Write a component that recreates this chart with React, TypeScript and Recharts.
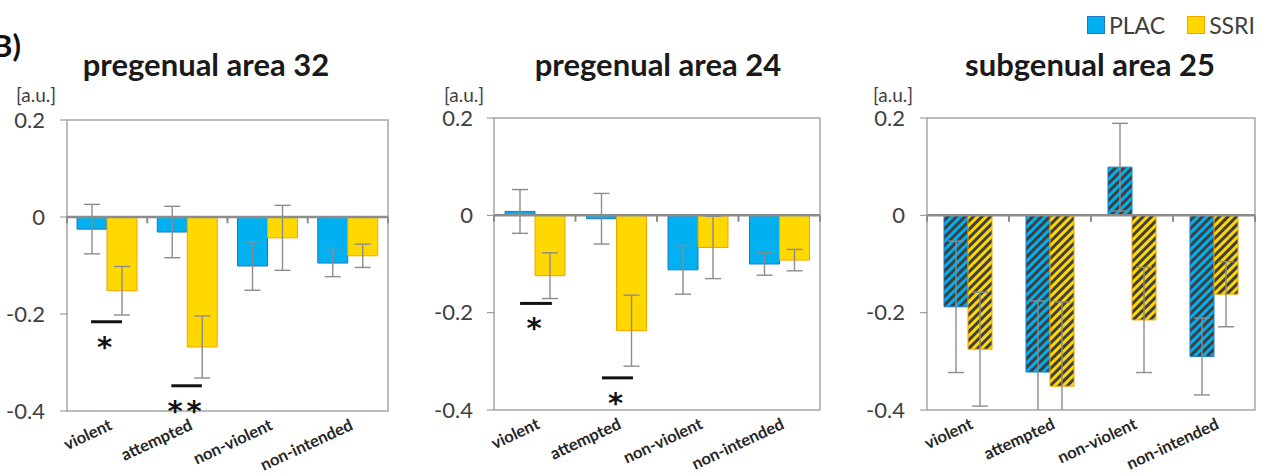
import React from 'react';
import {
  BarChart,
  Bar,
  XAxis,
  YAxis,
  ErrorBar,
  ReferenceLine,
  ReferenceArea,
} from 'recharts';

// ---- data ----
const CATEGORIES = ['violent', 'attempted', 'non-violent', 'non-intended'];
const SERIES = ['PLAC', 'SSRI'];

const PG32_PLAC = [-0.025, -0.031, -0.101, -0.095];
const PG32_PLAC_ERR = [0.051, 0.053, 0.05, 0.028];
const PG32_SSRI = [-0.152, -0.268, -0.043, -0.08];
const PG32_SSRI_ERR = [0.05, 0.064, 0.067, 0.024];

const PG24_PLAC = [0.008, -0.007, -0.112, -0.1];
const PG24_PLAC_ERR = [0.045, 0.052, 0.05, 0.023];
const PG24_SSRI = [-0.124, -0.237, -0.066, -0.092];
const PG24_SSRI_ERR = [0.047, 0.073, 0.064, 0.022];

const SG25_PLAC = [-0.188, -0.322, 0.099, -0.29];
const SG25_PLAC_ERR = [0.135, 0.146, 0.09, 0.079];
const SG25_SSRI = [-0.275, -0.351, -0.215, -0.162];
const SG25_SSRI_ERR = [0.117, 0.173, 0.108, 0.067];

const Y_TICKS = [0.2, 0, -0.2, -0.4];
const BOUNDARIES = [0, 1, 2, 3, 4];

// significance marks, in data units (category slot / value)
const PG32_SIG = [
  { from: 0.3, to: 0.685, at: -0.216, text: '*' },
  { from: 1.3, to: 1.68, at: -0.348, text: '**' },
];
const PG24_SIG = [
  { from: 0.32, to: 0.71, at: -0.181, text: '*' },
  { from: 1.325, to: 1.705, at: -0.334, text: '*' },
];

const BLUE = '#00b0f0';
const BLUE_EDGE = '#1f78c8';
const YELLOW = '#ffd800';
const YELLOW_EDGE = '#f5a300';
const GREY = '#8c8c8c';
const TEXT = '#404040';
const FONT = 'Lato, "Open Sans", sans-serif';
const H = 476;
const XAXIS_H = 60;

const buildRows = (plac: number[], placErr: number[], ssri: number[], ssriErr: number[]) =>
  CATEGORIES.map((cat, i) => ({
    cat,
    slot: i + 0.5,
    plac: plac[i],
    placErr: placErr[i],
    ssri: ssri[i],
    ssriErr: ssriErr[i],
  }));

const CatTick = (props: any) => {
  const { x, y, payload } = props;
  const ax = x + 6;
  const ay = y + 18;
  return (
    <text
      x={ax}
      y={ay}
      textAnchor="end"
      transform={`rotate(-25, ${ax}, ${ay})`}
      fontFamily={FONT}
      fontWeight={700}
      fontSize={16.5}
      fill="#262626"
    >
      {payload.value}
    </text>
  );
};

const SigLabel = (props: any) => {
  const { viewBox, text } = props;
  if (!viewBox) return null;
  const cx = viewBox.x + viewBox.width / 2;
  return (
    <text
      x={cx}
      y={viewBox.y + 35}
      textAnchor="middle"
      fontFamily="DejaVu Sans, sans-serif"
      fontWeight={700}
      fontSize={29}
      letterSpacing={4}
      fill="#111"
    >
      {text}
    </text>
  );
};

interface PanelProps {
  id: string;
  title: string;
  titleCenter: number;
  left: number;
  width: number;
  top: number;
  right: number;
  bottom: number;
  yWidth: number;
  tickMargin: number;
  barSize: number;
  rows: any[];
  sig: { from: number; to: number; at: number; text: string }[];
  hatched?: boolean;
  unitLeft: number;
}

function Panel(p: PanelProps) {
  const placFill = p.hatched ? `url(#hatchBlue-${p.id})` : BLUE;
  const ssriFill = p.hatched ? `url(#hatchYellow-${p.id})` : YELLOW;
  const plotW = p.width - p.yWidth - p.right;
  const plotH = H - p.top - p.bottom - XAXIS_H;
  return (
    <>
      <div
        style={{
          position: 'absolute',
          left: p.titleCenter - 200,
          width: 400,
          top: 49,
          textAlign: 'center',
          fontFamily: FONT,
          fontWeight: 700,
          fontSize: 31,
          lineHeight: '31px',
          color: '#1a1a1a',
          whiteSpace: 'nowrap',
        }}
      >
        {p.title}
      </div>
      <div
        style={{
          position: 'absolute',
          left: p.unitLeft,
          top: 85,
          fontFamily: FONT,
          fontSize: 19,
          lineHeight: '19px',
          color: TEXT,
        }}
      >
        [a.u.]
      </div>
      <div className={`panel-${p.id}`} style={{ position: 'absolute', left: p.left, top: 0, width: p.width, height: H }}>
        <BarChart
          width={p.width}
          height={H}
          data={p.rows}
          margin={{ top: p.top, right: p.right, bottom: p.bottom, left: 0 }}
          barGap={0}
          barSize={p.barSize}
        >
          <defs>
            <pattern id={`hatchBlue-${p.id}`} patternUnits="userSpaceOnUse" width="6" height="6" patternTransform="rotate(45)">
              <rect width="6" height="6" fill={BLUE} />
              <rect width="3" height="6" fill="#3f3f3f" />
            </pattern>
            <pattern id={`hatchYellow-${p.id}`} patternUnits="userSpaceOnUse" width="6" height="6" patternTransform="rotate(45)">
              <rect width="6" height="6" fill={YELLOW} />
              <rect width="3" height="6" fill="#3f3f3f" />
            </pattern>
            <clipPath id={`plotclip-${p.id}`} clipPathUnits="userSpaceOnUse">
              <rect x={p.yWidth} y={p.top} width={plotW} height={plotH} />
            </clipPath>
          </defs>
          <XAxis
            dataKey="cat"
            height={XAXIS_H}
            interval={0}
            tickLine={false}
            axisLine={false}
            tickSize={0}
            tickMargin={0}
            tick={<CatTick />}
          />
          <XAxis xAxisId="b" dataKey="slot" type="number" domain={[0, 4]} hide allowDataOverflow />
          <YAxis
            domain={[-0.4, 0.2]}
            ticks={Y_TICKS}
            interval={0}
            allowDataOverflow
            width={p.yWidth}
            axisLine={false}
            tickSize={7}
            tickMargin={p.tickMargin}
            tickLine={{ stroke: GREY }}
            tickFormatter={(v: number) => (v === 0 ? '0' : v.toFixed(1))}
            tick={{ fill: TEXT, fontSize: 22, fontFamily: FONT }}
          />
          <ReferenceArea
            xAxisId="b"
            x1={0}
            x2={4}
            y1={-0.4}
            y2={0.2}
            ifOverflow="visible"
            fill="none"
            fillOpacity={0}
            stroke="#a6a6a6"
            strokeWidth={1.5}
          />
          <Bar dataKey="plac" name={SERIES[0]} fill={placFill} stroke={BLUE_EDGE} strokeWidth={1} isAnimationActive={false}>
            <ErrorBar dataKey="placErr" width={8} stroke={GREY} strokeWidth={1.4} direction="y" />
          </Bar>
          <Bar dataKey="ssri" name={SERIES[1]} fill={ssriFill} stroke={YELLOW_EDGE} strokeWidth={1} isAnimationActive={false}>
            <ErrorBar dataKey="ssriErr" width={8} stroke={GREY} strokeWidth={1.4} direction="y" />
          </Bar>
          <ReferenceLine y={0} stroke={GREY} strokeWidth={2.5} />
          {BOUNDARIES.map((b) => (
            <ReferenceLine
              key={`b${b}`}
              xAxisId="b"
              ifOverflow="visible"
              segment={[
                { x: b, y: 0 },
                { x: b, y: -0.013 },
              ]}
              stroke={GREY}
              strokeWidth={2}
            />
          ))}
          {p.sig.map((s, i) => (
            <ReferenceLine
              key={`s${i}`}
              xAxisId="b"
              segment={[
                { x: s.from, y: s.at },
                { x: s.to, y: s.at },
              ]}
              stroke="#111"
              strokeWidth={3}
              label={<SigLabel text={s.text} />}
            />
          ))}
        </BarChart>
      </div>
    </>
  );
}

const PANELS = ['pg32', 'pg24', 'sg25'];

export default function App() {
  const clipCss = PANELS.map(
    (id) => `.panel-${id} [class*="errorBar"] { clip-path: url(#plotclip-${id}); }`
  ).join('\n');
  return (
    <div
      style={{
        position: 'absolute',
        left: 0,
        top: 0,
        width: 1270,
        height: H,
        background: '#fff',
        overflow: 'hidden',
      }}
    >
      <style>{clipCss}</style>
      <div
        style={{
          position: 'absolute',
          left: -8,
          top: 30,
          fontFamily: FONT,
          fontWeight: 700,
          fontSize: 31,
          lineHeight: '31px',
          color: '#111',
        }}
      >
        B)
      </div>

      <Panel
        id="pg32"
        title="pregenual area 32"
        titleCenter={206}
        left={0}
        width={420}
        top={120}
        right={32}
        bottom={5}
        yWidth={67}
        tickMargin={15}
        barSize={30}
        rows={buildRows(PG32_PLAC, PG32_PLAC_ERR, PG32_SSRI, PG32_SSRI_ERR)}
        sig={PG32_SIG}
        unitLeft={16}
      />
      <Panel
        id="pg24"
        title="pregenual area 24"
        titleCenter={658}
        left={420}
        width={420}
        top={118}
        right={20}
        bottom={6}
        yWidth={74}
        tickMargin={14}
        barSize={30}
        rows={buildRows(PG24_PLAC, PG24_PLAC_ERR, PG24_SSRI, PG24_SSRI_ERR)}
        sig={PG24_SIG}
        unitLeft={444}
      />
      <Panel
        id="sg25"
        title="subgenual area 25"
        titleCenter={1090}
        left={840}
        width={430}
        top={118}
        right={15}
        bottom={6}
        yWidth={87}
        tickMargin={15}
        barSize={24}
        rows={buildRows(SG25_PLAC, SG25_PLAC_ERR, SG25_SSRI, SG25_SSRI_ERR)}
        sig={[]}
        hatched
        unitLeft={873}
      />

      {/* legend */}
      <div
        style={{
          position: 'absolute',
          top: 11,
          left: 1087,
          display: 'flex',
          alignItems: 'center',
          fontFamily: FONT,
          fontSize: 23,
          color: TEXT,
        }}
      >
        {SERIES.map((name, i) => (
          <div key={name} style={{ display: 'flex', alignItems: 'center', marginRight: i === 0 ? 22 : 0 }}>
            <span
              style={{
                display: 'inline-block',
                width: 16,
                height: 16,
                background: i === 0 ? BLUE : YELLOW,
                border: `1.5px solid ${i === 0 ? BLUE_EDGE : YELLOW_EDGE}`,
                marginRight: 4,
              }}
            />
            <span>{name}</span>
          </div>
        ))}
      </div>
    </div>
  );
}
